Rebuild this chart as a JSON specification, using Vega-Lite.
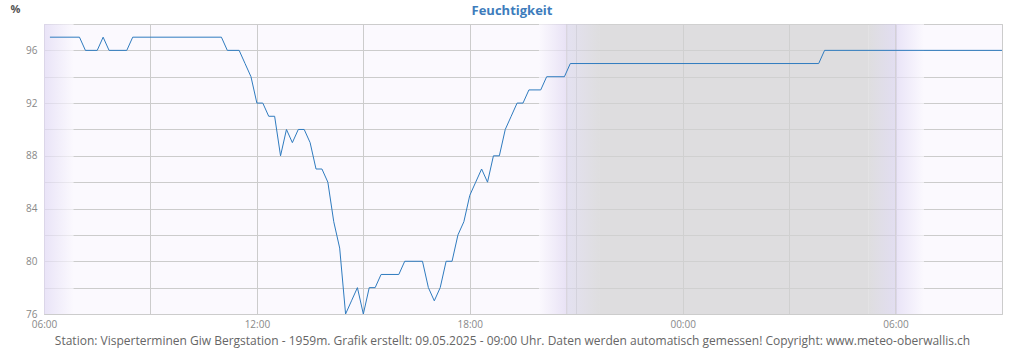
{
  "$schema": "https://vega.github.io/schema/vega-lite/v6.json",
  "width": 958,
  "height": 290,
  "autosize": {"type": "none"},
  "padding": {"left": 44, "top": 24, "right": 22, "bottom": 36},
  "background": "#ffffff",
  "config": {
    "font": "Open Sans",
    "view": {"fill": "#fbf9fe", "stroke": "#cccccc", "strokeWidth": 1}
  },
  "title": {
    "text": "Feuchtigkeit",
    "color": "#3d7cbc",
    "fontSize": 13,
    "fontWeight": "bold",
    "anchor": "middle",
    "dx": -11,
    "offset": -15
  },
  "datasets": {
    "bands": [
      {"start": "2025-05-08T06:00", "end": "2025-05-08T06:50", "kind": "fadeout"},
      {"start": "2025-05-09T06:00", "end": "2025-05-09T06:48", "kind": "fadeout"},
      {"start": "2025-05-08T19:57", "end": "2025-05-08T20:44", "kind": "fadein"},
      {"start": "2025-05-08T20:44", "end": "2025-05-08T21:40", "kind": "dusk"},
      {"start": "2025-05-08T21:40", "end": "2025-05-09T05:14", "kind": "night"},
      {"start": "2025-05-09T05:14", "end": "2025-05-09T06:00", "kind": "dawn"}
    ],
    "sun": [
      {"time": "2025-05-08T20:44", "event": "Sonnenuntergang"},
      {"time": "2025-05-09T06:00", "event": "Sonnenaufgang"}
    ],
    "hum": [
      {"time": "2025-05-08T06:10", "value": 97},
      {"time": "2025-05-08T07:00", "value": 97},
      {"time": "2025-05-08T07:10", "value": 96},
      {"time": "2025-05-08T07:30", "value": 96},
      {"time": "2025-05-08T07:40", "value": 97},
      {"time": "2025-05-08T07:50", "value": 96},
      {"time": "2025-05-08T08:20", "value": 96},
      {"time": "2025-05-08T08:30", "value": 97},
      {"time": "2025-05-08T11:00", "value": 97},
      {"time": "2025-05-08T11:10", "value": 96},
      {"time": "2025-05-08T11:30", "value": 96},
      {"time": "2025-05-08T11:40", "value": 95},
      {"time": "2025-05-08T11:50", "value": 94},
      {"time": "2025-05-08T12:00", "value": 92},
      {"time": "2025-05-08T12:10", "value": 92},
      {"time": "2025-05-08T12:20", "value": 91},
      {"time": "2025-05-08T12:30", "value": 91},
      {"time": "2025-05-08T12:40", "value": 88},
      {"time": "2025-05-08T12:50", "value": 90},
      {"time": "2025-05-08T13:00", "value": 89},
      {"time": "2025-05-08T13:10", "value": 90},
      {"time": "2025-05-08T13:20", "value": 90},
      {"time": "2025-05-08T13:30", "value": 89},
      {"time": "2025-05-08T13:40", "value": 87},
      {"time": "2025-05-08T13:50", "value": 87},
      {"time": "2025-05-08T14:00", "value": 86},
      {"time": "2025-05-08T14:10", "value": 83},
      {"time": "2025-05-08T14:20", "value": 81},
      {"time": "2025-05-08T14:30", "value": 76},
      {"time": "2025-05-08T14:40", "value": 77},
      {"time": "2025-05-08T14:50", "value": 78},
      {"time": "2025-05-08T15:00", "value": 76},
      {"time": "2025-05-08T15:10", "value": 78},
      {"time": "2025-05-08T15:20", "value": 78},
      {"time": "2025-05-08T15:30", "value": 79},
      {"time": "2025-05-08T16:00", "value": 79},
      {"time": "2025-05-08T16:10", "value": 80},
      {"time": "2025-05-08T16:40", "value": 80},
      {"time": "2025-05-08T16:50", "value": 78},
      {"time": "2025-05-08T17:00", "value": 77},
      {"time": "2025-05-08T17:10", "value": 78},
      {"time": "2025-05-08T17:20", "value": 80},
      {"time": "2025-05-08T17:30", "value": 80},
      {"time": "2025-05-08T17:40", "value": 82},
      {"time": "2025-05-08T17:50", "value": 83},
      {"time": "2025-05-08T18:00", "value": 85},
      {"time": "2025-05-08T18:10", "value": 86},
      {"time": "2025-05-08T18:20", "value": 87},
      {"time": "2025-05-08T18:30", "value": 86},
      {"time": "2025-05-08T18:40", "value": 88},
      {"time": "2025-05-08T18:50", "value": 88},
      {"time": "2025-05-08T19:00", "value": 90},
      {"time": "2025-05-08T19:10", "value": 91},
      {"time": "2025-05-08T19:20", "value": 92},
      {"time": "2025-05-08T19:30", "value": 92},
      {"time": "2025-05-08T19:40", "value": 93},
      {"time": "2025-05-08T20:00", "value": 93},
      {"time": "2025-05-08T20:10", "value": 94},
      {"time": "2025-05-08T20:40", "value": 94},
      {"time": "2025-05-08T20:50", "value": 95},
      {"time": "2025-05-09T03:50", "value": 95},
      {"time": "2025-05-09T04:00", "value": 96},
      {"time": "2025-05-09T09:00", "value": 96}
    ]
  },
  "layer": [
    {
      "data": {"name": "bands"},
      "transform": [{"filter": "datum.kind === 'fadeout'"}],
      "mark": {"type": "rect", "opacity": 0.7, "fill": {"gradient": "linear", "x1": 0, "y1": 0, "x2": 1, "y2": 0, "stops": [{"offset": 0, "color": "#e1daf4"}, {"offset": 1, "color": "#fbf9fe"}]}},
      "encoding": {
        "x": {"field": "start", "type": "temporal"},
        "x2": {"field": "end"}
      }
    },
    {
      "data": {"name": "bands"},
      "transform": [{"filter": "datum.kind === 'fadein'"}],
      "mark": {"type": "rect", "opacity": 0.7, "fill": {"gradient": "linear", "x1": 0, "y1": 0, "x2": 1, "y2": 0, "stops": [{"offset": 0, "color": "#fbf9fe"}, {"offset": 1, "color": "#e0d8f1"}]}},
      "encoding": {
        "x": {"field": "start", "type": "temporal"},
        "x2": {"field": "end"}
      }
    },
    {
      "data": {"name": "bands"},
      "transform": [{"filter": "datum.kind === 'dusk'"}],
      "mark": {"type": "rect", "opacity": 0.7, "fill": {"gradient": "linear", "x1": 0, "y1": 0, "x2": 1, "y2": 0, "stops": [{"offset": 0, "color": "#dad7eb"}, {"offset": 1, "color": "#d2d2d2"}]}},
      "encoding": {
        "x": {"field": "start", "type": "temporal"},
        "x2": {"field": "end"}
      }
    },
    {
      "data": {"name": "bands"},
      "transform": [{"filter": "datum.kind === 'night'"}],
      "mark": {"type": "rect", "opacity": 0.7, "fill": "#d2d2d2"},
      "encoding": {
        "x": {"field": "start", "type": "temporal"},
        "x2": {"field": "end"}
      }
    },
    {
      "data": {"name": "bands"},
      "transform": [{"filter": "datum.kind === 'dawn'"}],
      "mark": {"type": "rect", "opacity": 0.7, "fill": {"gradient": "linear", "x1": 0, "y1": 0, "x2": 1, "y2": 0, "stops": [{"offset": 0, "color": "#d2d2d2"}, {"offset": 1, "color": "#d7d2eb"}]}},
      "encoding": {
        "x": {"field": "start", "type": "temporal"},
        "x2": {"field": "end"}
      }
    },
    {
      "data": {"name": "sun"},
      "mark": {"type": "rule", "color": "#d3d0d6", "strokeWidth": 1},
      "encoding": {
        "x": {"field": "time", "type": "temporal"}
      }
    },
    {
      "data": {"name": "hum"},
      "mark": {"type": "line", "color": "#2f7bbf", "strokeWidth": 1},
      "encoding": {
        "x": {
          "field": "time",
          "type": "temporal",
          "scale": {"nice": false},
          "axis": {
            "tickCount": 9,
            "format": "%H:%M",
            "labelExpr": "hours(datum.value) % 6 === 0 ? datum.label : ''",
            "labelFlush": false,
            "labelOverlap": false,
            "labelFontSize": 10,
            "labelColor": "#888888",
            "labelPadding": 5,
            "ticks": false,
            "domain": false,
            "grid": true,
            "gridColor": "#cccccc",
            "title": "Station: Visperterminen Giw Bergstation - 1959m. Grafik erstellt: 09.05.2025 - 09:00 Uhr. Daten werden automatisch gemessen! Copyright: www.meteo-oberwallis.ch",
            "titleFontSize": 12,
            "titleFontWeight": "normal",
            "titleColor": "#666666",
            "titleX": 468,
            "titleY": 26,
            "titleBaseline": "middle"
          }
        },
        "y": {
          "field": "value",
          "type": "quantitative",
          "scale": {"domain": [76, 98], "nice": false, "zero": false},
          "axis": {
            "values": [76, 78, 80, 82, 84, 86, 88, 90, 92, 94, 96, 98],
            "labelExpr": "datum.value % 4 === 0 ? datum.label : ''",
            "labelFontSize": 10,
            "labelColor": "#888888",
            "labelPadding": 7,
            "ticks": false,
            "domain": false,
            "grid": true,
            "gridColor": "#cccccc",
            "title": "%",
            "titleAngle": 0,
            "titleFontSize": 11,
            "titleFontWeight": "bold",
            "titleColor": "#555555",
            "titleX": -34,
            "titleY": -15,
            "titleAlign": "left",
            "titleBaseline": "middle"
          }
        }
      }
    }
  ]
}
